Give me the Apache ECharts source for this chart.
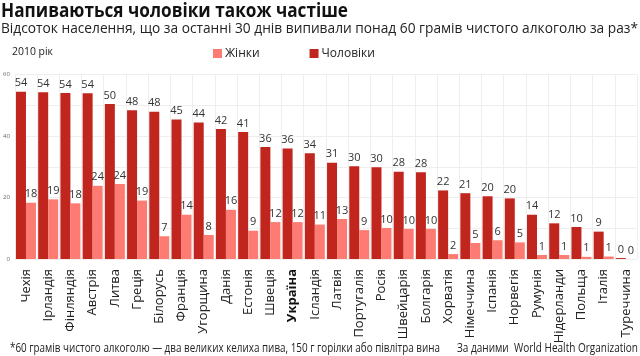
<!DOCTYPE html>
<html><head><meta charset="utf-8">
<script src="https://cdn.jsdelivr.net/npm/echarts@6/dist/echarts.min.js"></script>
<style>html,body{margin:0;padding:0;background:#fff}#c{width:640px;height:356px}</style>
</head><body><div id="c"></div>
<script>
var categories = ['Чехія','Ірландія','Фінляндія','Австрія','Литва','Греція','Білорусь','Франція','Угорщина','Данія','Естонія','Швеція','Україна','Ісландія','Латвія','Португалія','Росія','Швейцарія','Болгарія','Хорватія','Німеччина','Іспанія','Норвегія','Румунія','Нідерланди','Польща','Італія','Туреччина'];
var men = [54.4,54.2,54.0,53.9,50.4,48.4,47.9,45.4,44.4,42.3,41.3,36.4,35.9,34.4,31.3,30.2,29.8,28.4,28.2,22.3,21.4,20.4,19.7,14.4,11.6,10.4,8.9,0.3];
var women = [18.3,19.4,18.1,23.8,24.4,19.0,7.4,14.4,7.8,16.0,9.2,12.0,12.0,11.2,13.0,9.4,10.1,9.8,9.8,1.6,5.2,6.1,5.4,1.3,1.3,0.7,0.8,0];
var yTicks = [0,20,40,60];
var titleText = 'Напиваються чоловіки також частіше';
var subtitleText = 'Відсоток населення, що за останні 30 днів випивали понад 60 грамів чистого алкоголю за раз*';
var yearText = '2010 рік';
var noteText = '*60 грамів чистого алкоголю — два великих келиха пива, 150 г горілки або півлітра вина';
var sourceText = 'За даними  World Health Organization';

var FONT = '"Open Sans", "Noto Sans", sans-serif';
var NARROW = '"Liberation Sans Narrow", "Open Sans", sans-serif';
var MEN_C = '#c1261e', WOMEN_C = '#fd7b73';

var cv = document.createElement('canvas').getContext('2d');
function fit(text, font, w){ cv.font = font; return w / cv.measureText(text).width; }
function txt(text, font, x, y, w, color){
  return {type:'text', x:x, y:y, scaleX: fit(text, font, w), scaleY:1,
    style:{text:text, font:font, fill:color||'#222', textAlign:'left', textVerticalAlign:'middle', verticalAlign:'middle'}};
}
var fTitle = 'bold 20px ' + NARROW;
var fSub = '15px ' + FONT;
var fSmall = '11px ' + FONT;
var fNote = '12px ' + FONT;

var chart = echarts.init(document.getElementById('c'));
chart.setOption({
  animation:false,
  textStyle:{fontFamily:FONT},
  graphic:[
    txt(titleText, fTitle, 1, 11, 347, '#111'),
    txt(subtitleText, fSub, 1, 29, 637, '#222'),
    txt(yearText, fSmall, 12, 52, 41, '#222'),
    txt(noteText, fNote, 10, 349, 430, '#222'),
    txt(sourceText, fNote, 457, 349, 181, '#222')
  ],
  legend:{data:['Жінки','Чоловіки'], left:213, top:47.5, itemWidth:9, itemHeight:9, itemGap:50, icon:'rect', padding:0,
    textStyle:{fontFamily:FONT, fontSize:12, color:'#222', padding:[0,0,0,-2]}},
  grid:{left:14.6, right:3, top:74.5, bottom:97},
  xAxis:{type:'category', data:categories,
    axisLine:{show:false}, axisTick:{show:false},
    splitLine:{show:true, lineStyle:{color:'#eeeeee', width:1}},
    axisLabel:{rotate:90, fontSize:13, fontFamily:NARROW, color:'#222', margin:10, interval:0,
      formatter:function(v){return v==='Україна' ? '{b|'+v+'}' : v;},
      rich:{b:{fontWeight:'bold', fontSize:13, color:'#111', fontFamily:NARROW}}}
  },
  yAxis:{type:'value', min:0, max:60, interval:10,
    axisLine:{show:false}, axisTick:{show:false},
    splitLine:{lineStyle:{color:'#eeeeee'}},
    axisLabel:{fontSize:6, color:'#666', margin:5, formatter:function(v){return yTicks.indexOf(v)>=0 ? v : '';}}
  },
  series:[
    {name:'Чоловіки', type:'bar', data:men, barWidth:10, barGap:'0%', itemStyle:{color:MEN_C},
      label:{show:true, position:'top', distance:3, fontSize:11, color:'#333', formatter:function(p){return Math.round(p.value);}}},
    {name:'Жінки', type:'bar', data:women, barWidth:10, barGap:'0%', itemStyle:{color:WOMEN_C},
      label:{show:true, position:'top', distance:3, fontSize:11, color:'#333', formatter:function(p){return Math.round(p.value);}}}
  ]
});
</script></body></html>
